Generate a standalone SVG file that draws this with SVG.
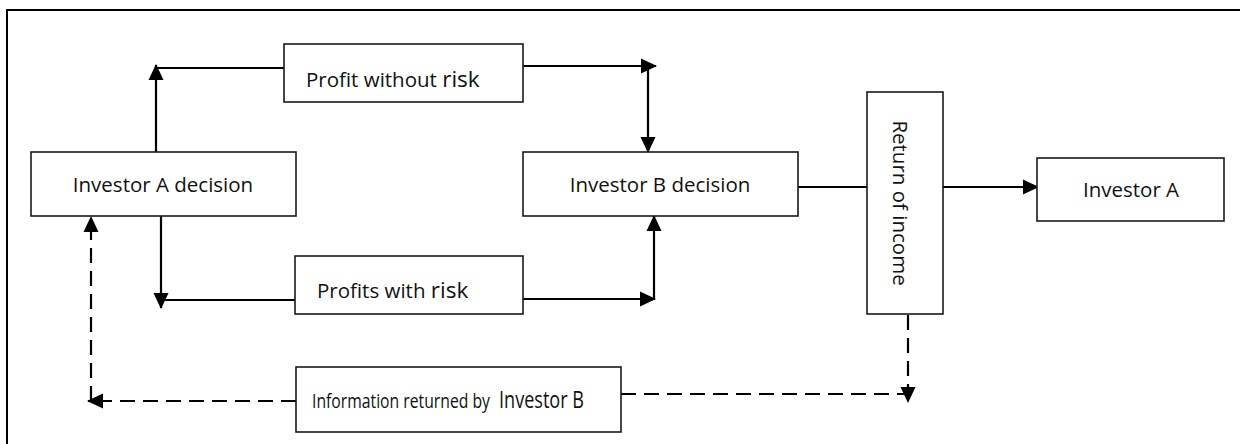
<svg xmlns="http://www.w3.org/2000/svg" width="1240" height="444" viewBox="0 0 1240 444">
<defs>
<marker id="ah" markerUnits="userSpaceOnUse" markerWidth="16" markerHeight="16" viewBox="0 0 16 16" refX="15" refY="8" orient="auto">
<path d="M0,0.5 L16,8 L0,15.5 z" fill="#000"/>
</marker>
</defs>
<style>
.box{fill:#fff;stroke:#1a1a1a;stroke-width:1.6}
.t{font-family:"Open Sans","Liberation Sans",sans-serif;font-size:20.5px;fill:#111}
.big{font-size:22.5px}
.c{fill:none;stroke:#000;stroke-width:2.2}
.d{fill:none;stroke:#000;stroke-width:2.2;stroke-dasharray:15 8}
.a{marker-end:url(#ah)}
</style>
<rect x="7" y="10" width="1260" height="460" fill="#fff" stroke="#000" stroke-width="2"/>
<g id="connectors">
<path class="c a" d="M156,152 L156,65"/>
<path class="c" d="M284,68 L156,68"/>
<path class="c a" d="M523,66 L656,66"/>
<path class="c a" d="M648,66 L648,152"/>
<path class="c a" d="M161,216 L161,308"/>
<path class="c" d="M295,300 L161,300"/>
<path class="c a" d="M523,299 L655,299"/>
<path class="c a" d="M654,299 L654,216"/>
<path class="c" d="M798,187 L867,187"/>
<path class="c a" d="M943,187 L1038,187"/>
<path class="d a" d="M908,315 L908,402"/>
<path class="d" d="M621,394 L908,394"/>
<path class="d a" d="M296,401 L88,401"/>
<path class="d a" d="M91,401 L91,217"/>
</g>
<g id="investor-a-decision">
<rect class="box" x="31" y="152" width="265" height="64"/>
<text class="t" x="163" y="192" text-anchor="middle">Investor A decision</text>
</g>
<g id="profit-without-risk">
<rect class="box" x="284" y="44" width="239" height="58"/>
<text class="t" x="306" y="87">Profit without <tspan class="big">risk</tspan></text>
</g>
<g id="profits-with-risk">
<rect class="box" x="295" y="256" width="228" height="58"/>
<text class="t" x="317" y="298">Profits with <tspan class="big">risk</tspan></text>
</g>
<g id="investor-b-decision">
<rect class="box" x="523" y="152" width="275" height="64"/>
<text class="t" x="660" y="192" text-anchor="middle">Investor B decision</text>
</g>
<g id="return-of-income">
<rect class="box" x="867" y="92" width="76" height="222"/>
<text class="t" transform="translate(901,203) rotate(90)" text-anchor="middle" dominant-baseline="central">Return of income</text>
</g>
<g id="investor-a">
<rect class="box" x="1037" y="158" width="187" height="63"/>
<text class="t" x="1131" y="197" text-anchor="middle">Investor A</text>
</g>
<g id="information-returned">
<rect class="box" x="296" y="367" width="325" height="65"/>
<text class="t" transform="translate(312,408) scale(1,1.3)" x="0" y="0" style="font-size:16px" textLength="178" lengthAdjust="spacingAndGlyphs">Information returned by</text>
<text class="t" transform="translate(499,408) scale(1,1.35)" x="0" y="0" style="font-size:18px" textLength="85" lengthAdjust="spacingAndGlyphs">Investor B</text>
</g>
</svg>
